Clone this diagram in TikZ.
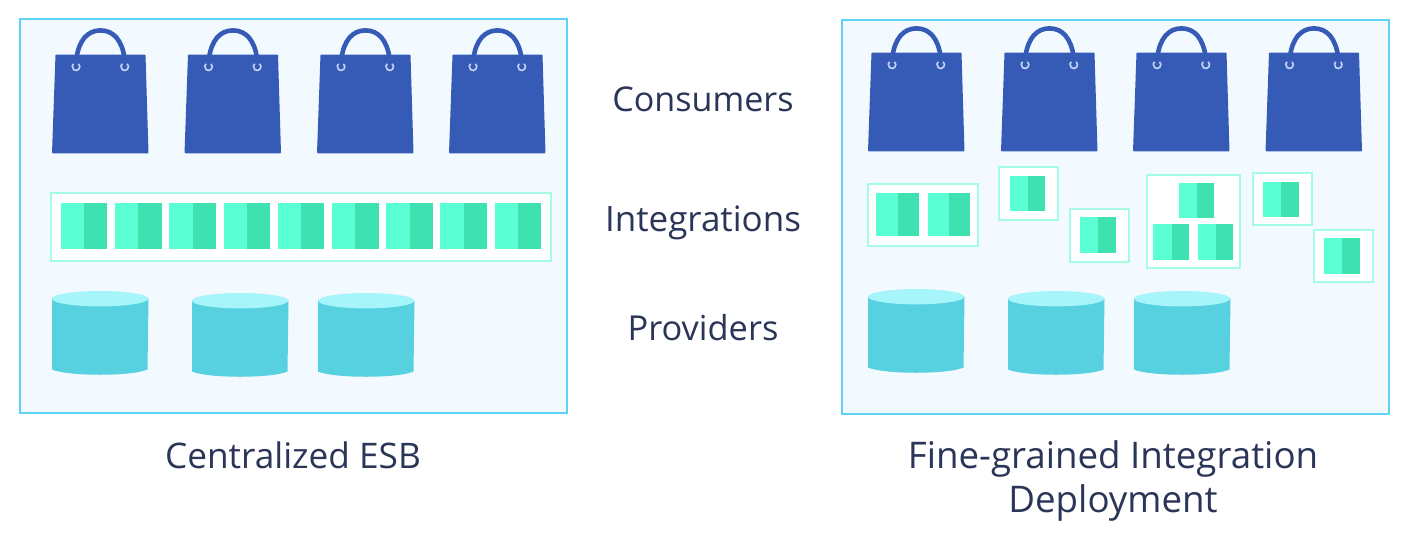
\documentclass[tikz,border=0pt]{standalone}
\usepackage{fontspec}
\setmainfont{Open Sans}
\definecolor{panelfill}{HTML}{F2F9FF}
\definecolor{panelline}{HTML}{5FD3F5}
\definecolor{bagblue}{HTML}{355BB7}
\definecolor{holeblue}{HTML}{C5D4F4}
\definecolor{mintlight}{HTML}{5AFFD4}
\definecolor{mintdark}{HTML}{3DE2B0}
\definecolor{mintline}{HTML}{A4FBE6}
\definecolor{cylbody}{HTML}{57D0DF}
\definecolor{cyltop}{HTML}{A6F5FA}
\definecolor{textnavy}{HTML}{2A3558}
\tikzset{
  x=1pt,y=-1pt,
  panel/.style={draw=panelline,fill=panelfill,line width=1.8pt},
  intbox/.style={draw=mintline,fill=white,line width=2pt},
  label/.style={text=textnavy,align=center,inner sep=0pt}
}
% bag: left of bottom edge, top y
\newcommand{\shopbag}[2]{%
  \begin{scope}[shift={(#1,#2)}]
    \draw[bagblue,line width=4.6pt] (24.5,3) .. controls (27,-14) and (35,-24.6) .. (48.5,-24.6)
       .. controls (62,-24.6) and (70,-14) .. (72.5,3);
    \fill[bagblue,rounded corners=0.8pt] (3.5,-0.5) -- (93.5,-0.5) -- (96.5,98.3) -- (0,98.3) -- cycle;
    \draw[holeblue,line width=1.6pt] (24,11.7)+(310:3.8) arc[start angle=310,end angle=590,radius=3.8];
    \draw[holeblue,line width=1.6pt] (72.7,11.7)+(310:3.8) arc[start angle=310,end angle=590,radius=3.8];
  \end{scope}}
% cylinder: left, top of ellipse
\newcommand{\shopcyl}[2]{%
  \begin{scope}[shift={(#1,#2)}]
    \fill[cylbody] (0,7.5) -- (96.5,7.5) -- (95.5,78.5) .. controls (80,85.5) and (16,85.5) .. (0,78.5) -- cycle;
    \fill[cyltop] (48.2,7.7) ellipse[x radius=48.2,y radius=7.7];
  \end{scope}}
% cell: x0, split, x1, y0, y1
\newcommand{\mintcell}[5]{%
  \fill[mintlight] (#1,#4) rectangle (#2,#5);
  \fill[mintdark] (#2,#4) rectangle (#3,#5);}
\begin{document}
\begin{tikzpicture}
\useasboundingbox (0,0) rectangle (1412,538);
\fill[white] (0,0) rectangle (1412,538);
\draw[panel] (20,19) rectangle (567,413);
\draw[panel] (842,20) rectangle (1389,414);
% left bags
\shopbag{52}{55}\shopbag{184.5}{55}\shopbag{317}{55}\shopbag{449}{55}
% right bags
\shopbag{868}{53}\shopbag{1001}{53}\shopbag{1133}{53}\shopbag{1265.5}{53}
% left integrations
\draw[intbox] (51,192.7) rectangle (551,260.7);
\foreach \x in {60.7,115,169.2,223.5,277.7,332,386.2,440.4,494.6}
  {\mintcell{\x}{\x+23.3}{\x+46.5}{203.3}{249.3}}
% right integrations
\draw[intbox] (867.5,183.5) rectangle (977.5,245.7);
\mintcell{876}{898}{919}{193.3}{235.7}
\mintcell{927.5}{949}{969.5}{193.3}{235.7}
\draw[intbox] (998.5,167.3) rectangle (1058,219.7);
\mintcell{1009.5}{1028}{1045}{175.7}{211}
\draw[intbox] (1069.5,208.5) rectangle (1129,262.3);
\mintcell{1080}{1098}{1115.5}{217.3}{253.3}
\draw[intbox] (1146.5,175.3) rectangle (1240,267.7);
\mintcell{1178.5}{1197}{1214}{183}{218.3}
\mintcell{1153}{1171.5}{1189}{224.3}{260}
\mintcell{1197.5}{1216}{1233}{224.3}{260}
\draw[intbox] (1252.5,173) rectangle (1312,225.3);
\mintcell{1263}{1281}{1299}{181.7}{217}
\draw[intbox] (1313.5,229.7) rectangle (1373,282.3);
\mintcell{1323.5}{1342}{1359.5}{238}{273.7}
% cylinders
\shopcyl{52}{291}\shopcyl{192}{293}\shopcyl{318}{293}
\shopcyl{868}{289}\shopcyl{1008}{291}\shopcyl{1134}{291}
% labels
\node[label,font=\fontsize{34.1}{40}\selectfont] (consumers) at (703,99) {Consumers};
\node[label,font=\fontsize{35}{40}\selectfont] (integrations) at (703,223) {Integrations};
\node[label,font=\fontsize{34.4}{40}\selectfont] (providers) at (703,327.5) {Providers};
\node[label,font=\fontsize{35.2}{40}\selectfont] (esb) at (293,455) {Centralized ESB};
\node[label,font=\fontsize{36.7}{44}\selectfont] (fine) at (1113,480.5) {Fine-grained Integration\\Deployment};
\end{tikzpicture}
\end{document}
